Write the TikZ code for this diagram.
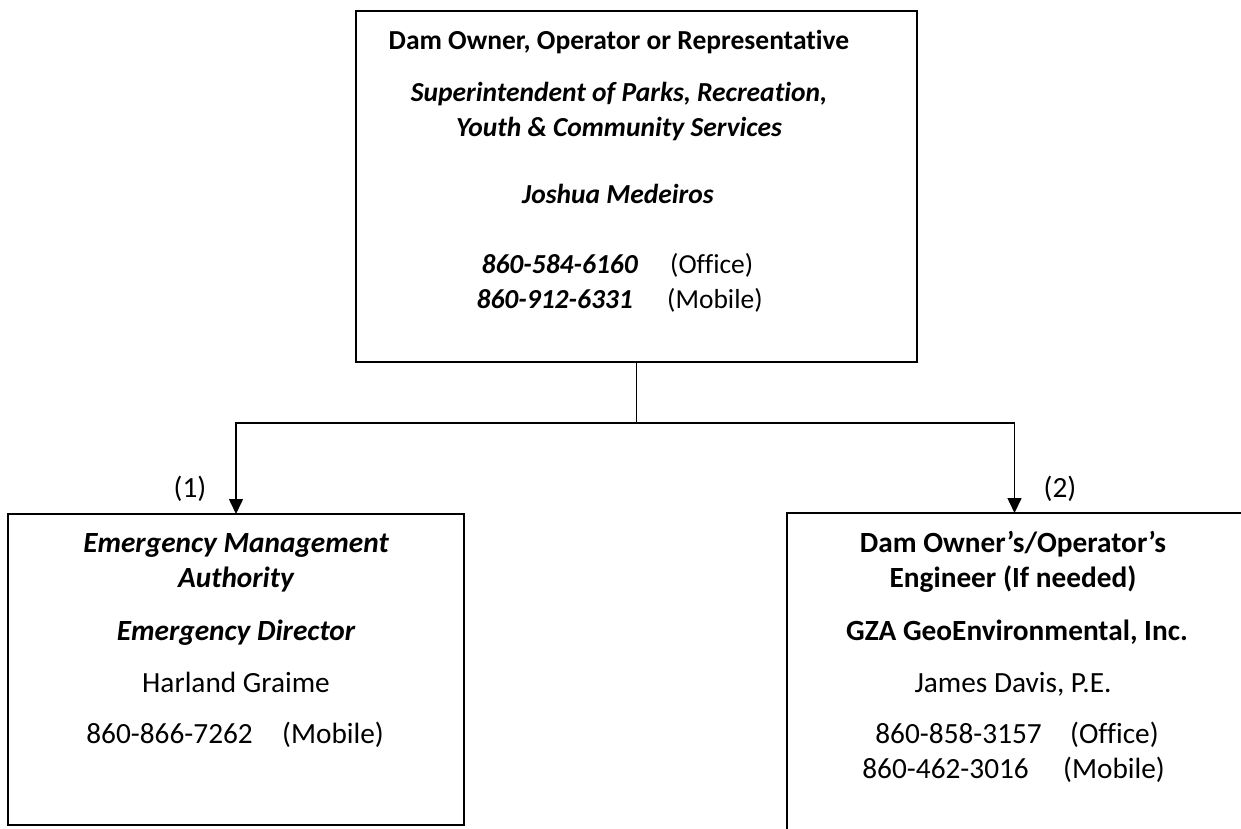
\documentclass[tikz,border=0pt]{standalone}
\usepackage{fontspec}
\setmainfont[Ligatures=NoCommon]{Carlito}
\usetikzlibrary{arrows.meta}
\tikzset{
  boxnode/.style={draw=black, line width=1.6pt, rectangle, inner sep=0pt, outer sep=0pt},
  txt/.style={anchor=base, inner sep=0pt, font=\fontsize{29.3}{34}\selectfont},
  btxt/.style={txt, font=\fontsize{29.3}{34}\selectfont\bfseries},
  bitxt/.style={txt, font=\fontsize{29.3}{34}\selectfont\bfseries\itshape},
  ttxt/.style={txt, font=\fontsize{27.5}{34}\selectfont},
  tbtxt/.style={txt, font=\fontsize{27.5}{34}\selectfont\bfseries},
  tbitxt/.style={txt, font=\fontsize{27.5}{34}\selectfont\bfseries\itshape},
  conn/.style={line width=1.6pt, draw=black},
  arr/.style={conn, -{Triangle[length=15pt,width=14pt]}},
}
\begin{document}
\begin{tikzpicture}[x=1pt,y=-1pt]
\useasboundingbox (0,0) rectangle (1241,829);
\clip (0,0) rectangle (1241,829);
% boxes
\node[boxnode, minimum width=561pt, minimum height=351pt] (top) at (636.5,186.5) {};
\node[boxnode, minimum width=456pt, minimum height=311pt] (ema) at (236,669.5) {};
\node[boxnode, minimum width=455pt, minimum height=387pt] (eng) at (1014.5,706.5) {};
% top box text
\node[tbtxt] (t1) at (619,50) {Dam Owner, Operator or Representative};
\node[tbitxt] (t2) at (619,102) {Superintendent of Parks, Recreation,};
\node[tbitxt] (t3) at (619,137) {Youth \& Community Services};
\node[tbitxt] (t4) at (618,203) {Joshua Medeiros};
\node[tbitxt, anchor=base east] (t5a) at (638,273) {860-584-6160};
\node[ttxt, anchor=base west] (t5b) at (670,273) {(Office)};
\node[tbitxt, anchor=base east] (t6a) at (633,308) {860-912-6331};
\node[ttxt, anchor=base west] (t6b) at (667,308) {(Mobile)};
% left box text
\node[bitxt] (l1) at (236,552) {Emergency Management};
\node[bitxt] (l2) at (236,587) {Authority};
\node[bitxt] (l3) at (236,640) {Emergency Director};
\node[txt] (l4) at (236,692) {Harland Graime};
\node[txt, anchor=base east] (l5a) at (253,743) {860-866-7262};
\node[txt, anchor=base west] (l5b) at (282,743) {(Mobile)};
% right box text
\node[btxt] (r1) at (1013,552) {Dam Owner’s/Operator’s};
\node[btxt] (r2) at (1013,587) {Engineer (If needed)};
\node[btxt] (r3) at (1017,640) {GZA GeoEnvironmental, Inc.};
\node[txt] (r4) at (1013,692) {James Davis, P.E.};
\node[txt, anchor=base east] (r5a) at (1042,743) {860-858-3157};
\node[txt, anchor=base west] (r5b) at (1070,743) {(Office)};
\node[txt, anchor=base east] (r6a) at (1029,778) {860-462-3016};
\node[txt, anchor=base west] (r6b) at (1063,778) {(Mobile)};
% labels
\node[txt] (lab1) at (190,497) {(1)};
\node[txt] (lab2) at (1060,497) {(2)};
% connectors
\draw[conn] (top.south) -- (top.south |- 0,423) coordinate (j);
\draw[arr] (j) -| (ema.north);
\draw[arr] (j) -| (eng.north);
\end{tikzpicture}
\end{document}
